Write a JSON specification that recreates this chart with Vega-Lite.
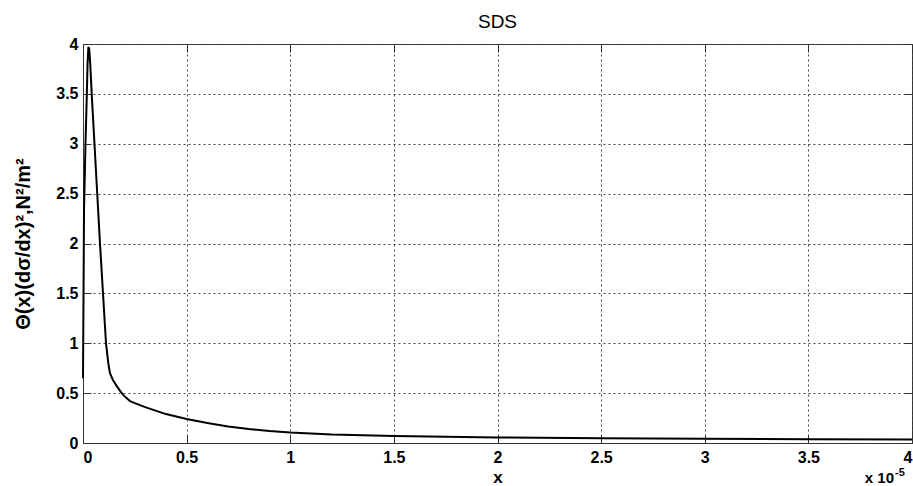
{
  "$schema": "https://vega.github.io/schema/vega-lite/v6.json",
  "width": 829,
  "height": 399,
  "autosize": {"type": "none"},
  "padding": {"left": 83, "top": 44, "right": 1, "bottom": 43},
  "background": "white",
  "config": {
    "font": "Liberation Sans",
    "view": {"stroke": "#333333", "strokeWidth": 1},
    "axis": {
      "labelFont": "Liberation Sans",
      "labelFontWeight": "bold",
      "labelFontSize": 16,
      "labelColor": "#000000",
      "titleFont": "Liberation Sans",
      "titleFontWeight": "bold",
      "titleColor": "#000000",
      "domainColor": "#333333",
      "tickColor": "#333333",
      "gridColor": "#444444",
      "gridDash": [2, 3],
      "gridOpacity": 1,
      "gridWidth": 1
    }
  },
  "title": {
    "text": "SDS",
    "font": "Liberation Sans",
    "fontSize": 19,
    "fontWeight": "normal",
    "color": "#000000",
    "offset": 4
  },
  "data": {
    "values": [
      {"x": 0, "y": 0.65},
      {"x": 0.005, "y": 2.35},
      {"x": 0.012, "y": 3.0},
      {"x": 0.018, "y": 3.46},
      {"x": 0.022, "y": 3.8},
      {"x": 0.026, "y": 3.97},
      {"x": 0.03, "y": 3.95},
      {"x": 0.035, "y": 3.8},
      {"x": 0.042, "y": 3.5},
      {"x": 0.062, "y": 2.75},
      {"x": 0.082, "y": 2.0},
      {"x": 0.111, "y": 1.0},
      {"x": 0.122, "y": 0.8},
      {"x": 0.13, "y": 0.7},
      {"x": 0.145, "y": 0.63},
      {"x": 0.163, "y": 0.57},
      {"x": 0.18, "y": 0.52},
      {"x": 0.195, "y": 0.48},
      {"x": 0.21, "y": 0.45},
      {"x": 0.227, "y": 0.42},
      {"x": 0.25, "y": 0.4},
      {"x": 0.3, "y": 0.36},
      {"x": 0.4, "y": 0.29},
      {"x": 0.5, "y": 0.24},
      {"x": 0.6, "y": 0.2},
      {"x": 0.7, "y": 0.165},
      {"x": 0.8, "y": 0.14},
      {"x": 0.9, "y": 0.12},
      {"x": 1.0, "y": 0.105},
      {"x": 1.2, "y": 0.085},
      {"x": 1.5, "y": 0.07},
      {"x": 2.0, "y": 0.055},
      {"x": 2.5, "y": 0.048},
      {"x": 3.0, "y": 0.042},
      {"x": 3.5, "y": 0.038},
      {"x": 4.0, "y": 0.035}
    ]
  },
  "resolve": {"axis": {"x": "independent", "y": "independent"}},
  "layer": [
    {
      "mark": {"type": "line", "color": "#000000", "strokeWidth": 2, "interpolate": "linear"},
      "encoding": {
        "x": {
          "field": "x", "type": "quantitative",
          "scale": {"domain": [0, 4], "nice": false},
          "axis": {
            "values": [0, 0.5, 1, 1.5, 2, 2.5, 3, 3.5, 4],
            "format": ".2~f",
            "title": "x",
            "titleFontSize": 17,
            "titlePadding": 4,
            "tickSize": -8,
            "labelPadding": 14,
            "grid": true
          }
        },
        "y": {
          "field": "y", "type": "quantitative",
          "scale": {"domain": [0, 4], "nice": false},
          "axis": {
            "values": [0, 0.5, 1, 1.5, 2, 2.5, 3, 3.5, 4],
            "format": ".2~f",
            "title": "Θ(x)(dσ/dx)²,N²/m²",
            "titleFontSize": 20,
            "titlePadding": 22,
            "tickSize": -8,
            "labelPadding": 13,
            "grid": true
          }
        }
      }
    },
    {
      "data": {"values": [{"x": 4, "y": 0, "label": "x 10"}]},
      "mark": {"type": "text", "align": "right", "baseline": "alphabetic", "dx": -18, "dy": 40, "fontSize": 15, "fontWeight": "bold", "color": "#000000"},
      "encoding": {
        "x": {"field": "x", "type": "quantitative", "axis": {"orient": "top", "labels": false, "title": null, "grid": false, "domain": false, "tickSize": -8, "values": [0, 0.5, 1, 1.5, 2, 2.5, 3, 3.5, 4]}},
        "y": {"field": "y", "type": "quantitative", "axis": {"orient": "right", "labels": false, "title": null, "grid": false, "domain": false, "tickSize": -8, "values": [0, 0.5, 1, 1.5, 2, 2.5, 3, 3.5, 4]}},
        "text": {"field": "label"}
      }
    },
    {
      "data": {"values": [{"x": 4, "y": 0, "label": "-5"}]},
      "mark": {"type": "text", "align": "left", "baseline": "alphabetic", "dx": -17, "dy": 33, "fontSize": 11, "fontWeight": "bold", "color": "#000000"},
      "encoding": {
        "x": {"field": "x", "type": "quantitative", "axis": null},
        "y": {"field": "y", "type": "quantitative", "axis": null},
        "text": {"field": "label"}
      }
    }
  ]
}
